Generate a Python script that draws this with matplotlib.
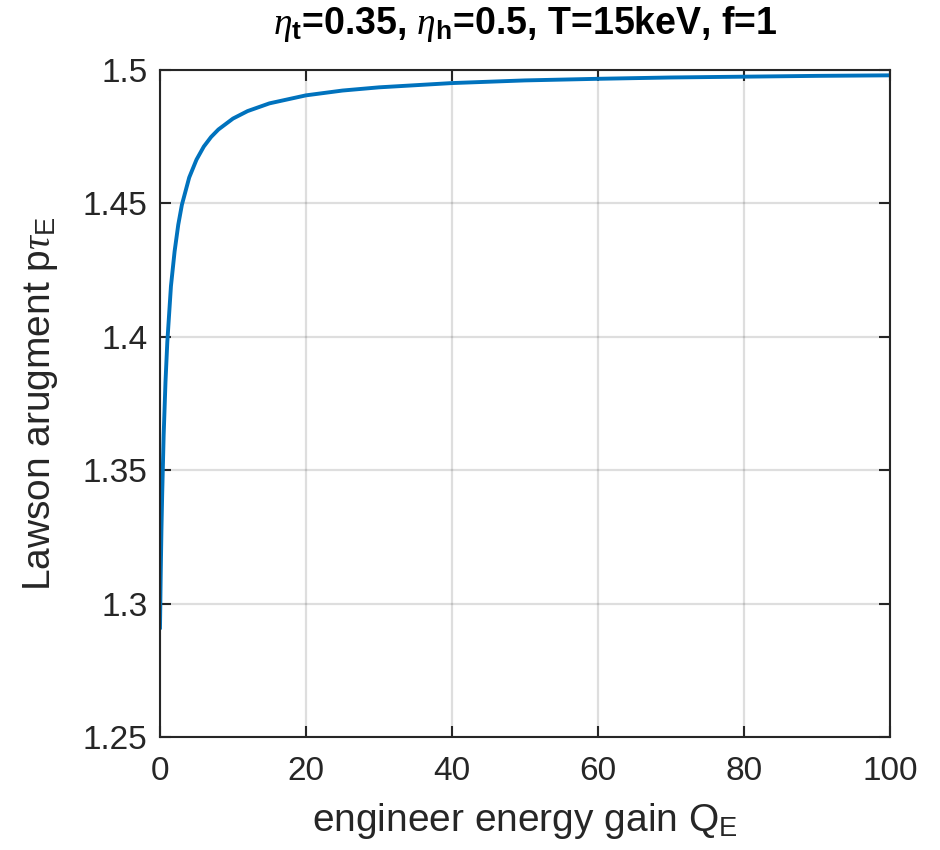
import matplotlib
matplotlib.use("Agg")
import matplotlib.pyplot as plt
from matplotlib.ticker import FuncFormatter

plt.rcParams['font.family'] = ['Liberation Sans', 'DejaVu Sans']
plt.rcParams['mathtext.fontset'] = 'custom'
plt.rcParams['mathtext.rm'] = 'Liberation Sans'
plt.rcParams['mathtext.it'] = 'Liberation Serif:italic'
plt.rcParams['mathtext.bf'] = 'Liberation Sans:bold'

# Data
Q_E = [0, 0.1, 0.2, 0.3, 0.5, 0.75, 1, 1.5, 2, 2.5, 3, 4, 5, 6, 7, 8, 10, 12, 15,
       20, 25, 30, 40, 50, 60, 70, 80, 90, 100]
p_tau = [1.291, 1.311, 1.328, 1.341, 1.363, 1.383, 1.398, 1.419, 1.432, 1.442,
         1.4495, 1.4597, 1.4664, 1.4713, 1.4749, 1.4777, 1.4818, 1.4846, 1.4875,
         1.4905, 1.4923, 1.4935, 1.4951, 1.4961, 1.4967, 1.4972, 1.4975, 1.4978, 1.4980]
x_ticks = [0, 20, 40, 60, 80, 100]
y_ticks = [1.25, 1.3, 1.35, 1.4, 1.45, 1.5]

fig = plt.figure(figsize=(9.4, 8.5), dpi=100)
ax = fig.add_axes([160/940, 1-737/850, 730/940, 667/850])
ax.plot(Q_E, p_tau, color='#0072BD', lw=2.8)
ax.set_xlim(0, 100)
ax.set_ylim(1.25, 1.5)
ax.set_xticks(x_ticks)
ax.set_yticks(y_ticks)
ax.yaxis.set_major_formatter(FuncFormatter(lambda v, p: f"{v:g}"))
ax.grid(True, color='#000000', alpha=0.13, lw=1.6)
ax.tick_params(direction='in', top=True, right=True, length=8, width=1.5,
               colors='#262626', labelsize=24, labelcolor='#262626')
ax.tick_params(axis='x', pad=14)
ax.tick_params(axis='y', pad=9)
for s in ax.spines.values():
    s.set_color('#262626')
    s.set_linewidth(1.5)
ax.set_xlabel(r'engineer energy gain Q$_\mathrm{E}$', fontsize=28, color='#262626', labelpad=10)
ax.set_ylabel(r'Lawson arugment p$\tau_\mathrm{E}$', fontsize=28, color='#262626', labelpad=16)
ax.set_title(r'$\eta_\mathbf{t}$=0.35, $\eta_\mathbf{h}$=0.5, T=15keV, f=1',
             fontsize=27, fontweight='bold', color='black', pad=26)
fig.savefig('out.png', dpi=100)
